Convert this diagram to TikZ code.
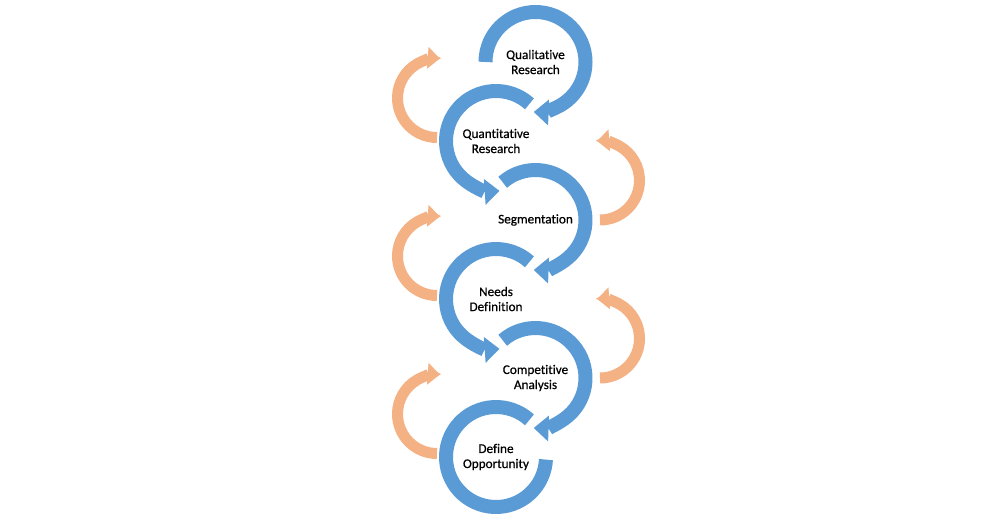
\documentclass[tikz,border=0pt]{standalone}
\usepackage{fontspec}
\setmainfont{Carlito}[Ligatures=NoCommon,UprightFeatures={FakeBold=0.6}]
\usetikzlibrary{positioning,arrows.meta}
\definecolor{arcblue}{HTML}{5B9BD5}
\definecolor{arcorange}{HTML}{F4B183}
\tikzset{stage node/.style={align=center,inner sep=0pt,font=\fontsize{9.4}{10.7}\selectfont},
    blue arc/.style={draw=arcblue,line width=0.35cm},
    blue arrow/.style={blue arc,-{Triangle[width=0.65cm,length=0.37cm,line width=0pt]}},
    orange arrow/.style={draw=arcorange,line width=0.275cm,-{Triangle[width=0.55cm,length=0.3cm,line width=0pt]}},}

\begin{document}
\begin{tikzpicture}[on grid]
    \useasboundingbox (0,0) rectangle (24.65cm,12.975cm);
    \node[stage node] (1) at (13.3875cm,11.425cm) {Qualitative\\Research};
    \node[stage node] (2) [below left = 1.975cm and 0.9875cm of 1]  {Quantitative\\Research};
    \node[stage node] (3) [below right = 1.975cm and 0.9875cm of 2] {Segmentation};
    \node[stage node] (4) [below left = 1.975cm and 0.9875cm of 3]  {Needs\\Definition};
    \node[stage node] (5) [below right = 1.975cm and 0.9875cm of 4] {Competitive\\Analysis};
    \node[stage node] (6) [below left = 1.975cm and 0.9875cm of 5]  {Define\\Opportunity};

    % blue loops
    \draw[blue arrow] ([shift={(180:1.25cm)}]1.center) arc[start angle=180,end angle=-92,radius=1.25cm];
    \draw[blue arrow] ([shift={(48:1.25cm)}]2.center) arc[start angle=48,end angle=274,radius=1.25cm];
    \draw[blue arrow] ([shift={(131:1.25cm)}]3.center) arc[start angle=131,end angle=-92,radius=1.25cm];
    \draw[blue arrow] ([shift={(48:1.25cm)}]4.center) arc[start angle=48,end angle=274,radius=1.25cm];
    \draw[blue arrow] ([shift={(131:1.25cm)}]5.center) arc[start angle=131,end angle=-92,radius=1.25cm];
    \draw[blue arc] ([shift={(48:1.25cm)}]6.center) arc[start angle=48,end angle=357,radius=1.25cm];

    % orange loops
    \draw[orange arrow] ([shift={(-1.475cm,1.075cm)}]2.center) ++(270:0.9875cm) arc[start angle=270,end angle=86,radius=0.9875cm];
    \draw[orange arrow] ([shift={(-1.475cm,1.075cm)}]4.center) ++(270:0.9875cm) arc[start angle=270,end angle=86,radius=0.9875cm];
    \draw[orange arrow] ([shift={(-1.475cm,1.075cm)}]6.center) ++(270:0.9875cm) arc[start angle=270,end angle=86,radius=0.9875cm];
    \draw[orange arrow] ([shift={(1.6125cm,0.9875cm)}]3.center) ++(-90:0.9875cm) arc[start angle=-90,end angle=94,radius=0.9875cm];
    \draw[orange arrow] ([shift={(1.6125cm,0.9875cm)}]5.center) ++(-90:0.9875cm) arc[start angle=-90,end angle=94,radius=0.9875cm];
\end{tikzpicture}
\end{document}
